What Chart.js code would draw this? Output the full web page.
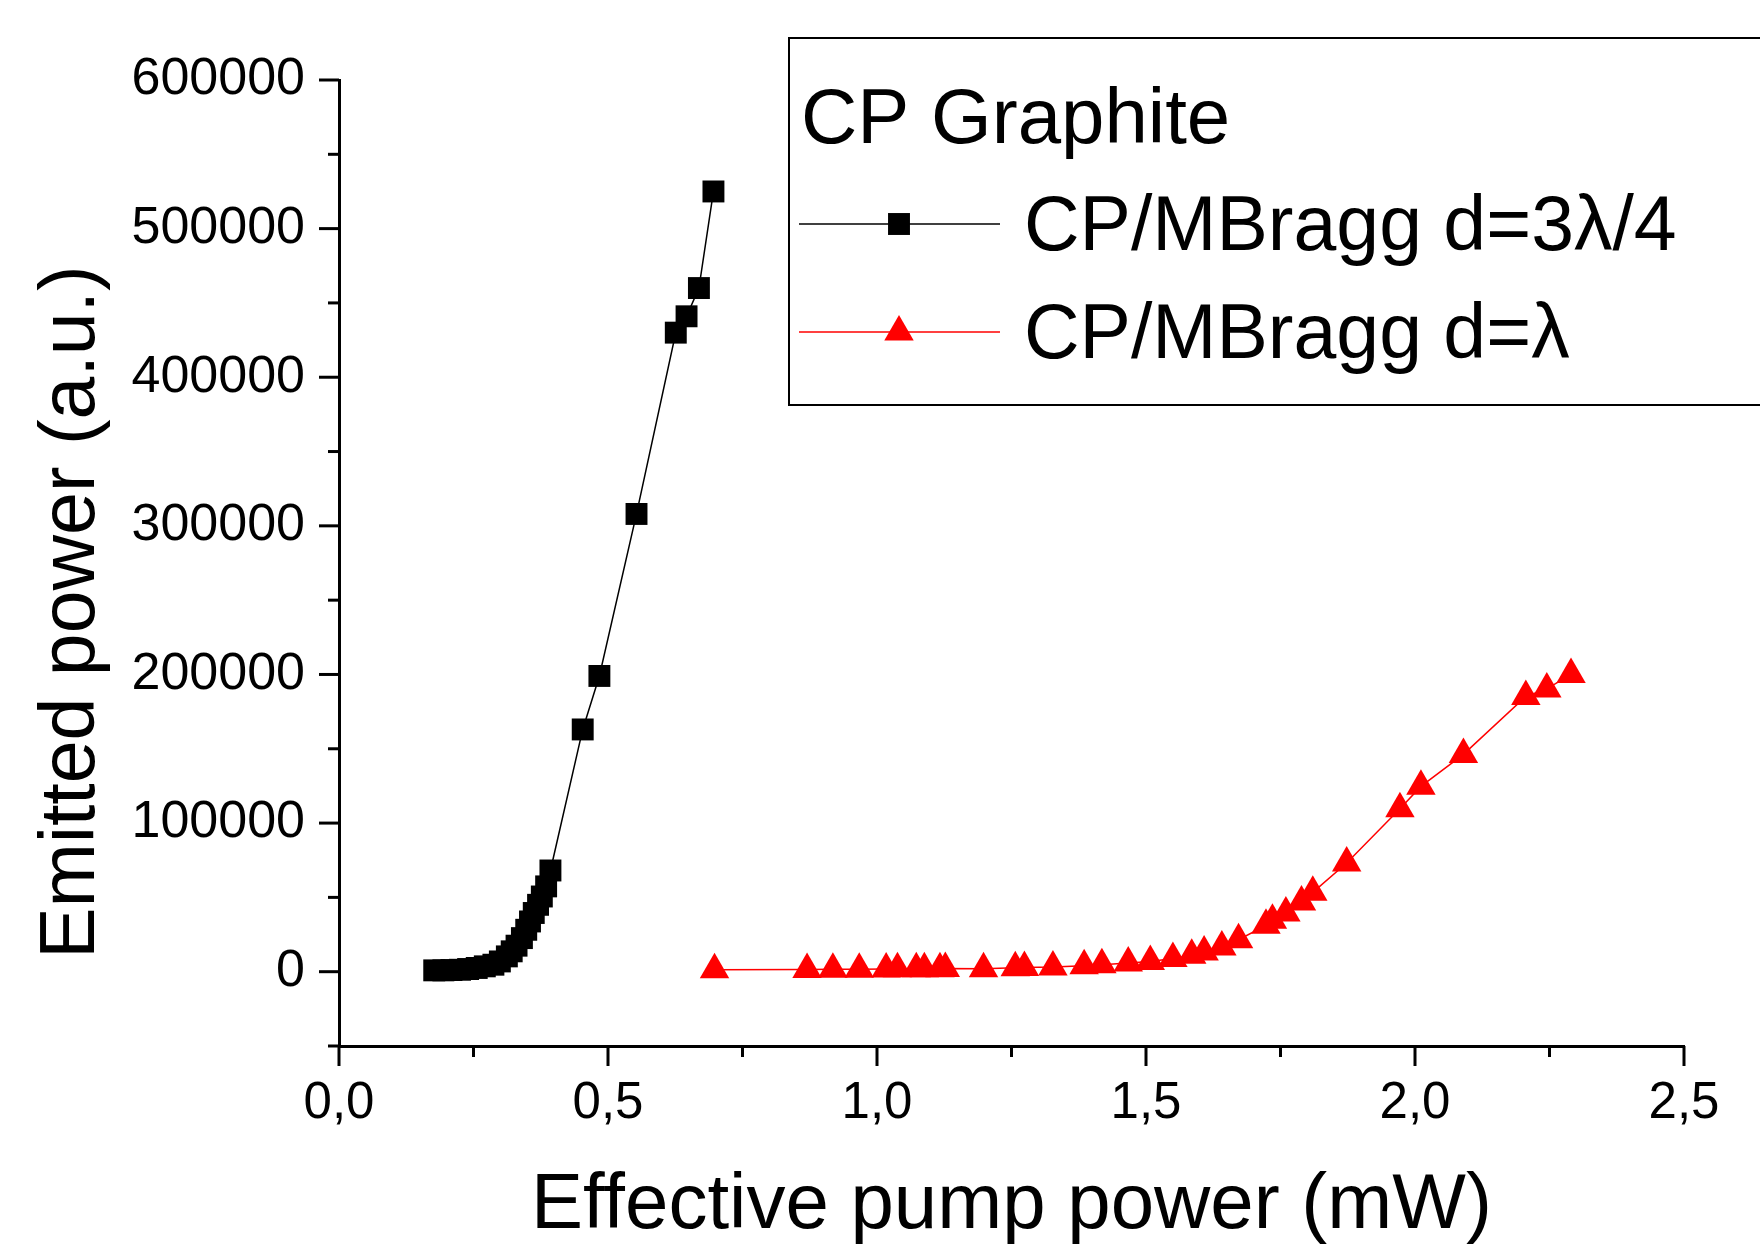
<!DOCTYPE html>
<html>
<head>
<meta charset="utf-8">
<script src="https://cdn.jsdelivr.net/npm/chart.js@4.4.0/dist/chart.umd.min.js"></script>
<style>
  html, body { margin: 0; padding: 0; background: #fff; }
  #wrap { width: 1760px; height: 1248px; }
</style>
</head>
<body>
<div id="wrap"><canvas id="chart" width="1760" height="1248"></canvas></div>
<script>
const FONT = "'Liberation Sans', Arial, sans-serif";

// CP/MBragg d=3λ/4 (black squares)
const pumpA = [0.177, 0.194, 0.209, 0.225, 0.240, 0.256, 0.271, 0.287, 0.299, 0.312, 0.321, 0.330,
  0.340, 0.348, 0.355, 0.362, 0.370, 0.377, 0.385, 0.393, 0.453, 0.484, 0.553, 0.626, 0.646, 0.669, 0.696];
const emitA = [900, 900, 1100, 1300, 1800, 2500, 3600, 4700, 6900, 10300, 13700, 17500,
  22600, 28200, 33800, 39500, 45000, 50600, 57400, 68100, 163000, 199000, 308000, 430000, 441000, 460000, 525000];

// CP/MBragg d=λ (red triangles)
const pumpB = [0.698, 0.870, 0.918, 0.967, 1.017, 1.038, 1.073, 1.088, 1.117, 1.127, 1.198, 1.257, 1.274,
  1.327, 1.385, 1.418, 1.467, 1.508, 1.550, 1.585, 1.608, 1.641, 1.672, 1.723, 1.735, 1.760, 1.789,
  1.810, 1.873, 1.972, 2.011, 2.090, 2.206, 2.245, 2.290];
const emitB = [1300, 1500, 1600, 1700, 1800, 1900, 2000, 2000, 2000, 2100, 2000, 2700, 2800,
  3100, 4000, 4700, 5800, 6900, 8800, 11000, 13200, 16600, 21500, 31200, 34600, 39500, 46900,
  53400, 73100, 109600, 124700, 146200, 185200, 190300, 200000];

const seriesLabels = ['CP/MBragg d=3λ/4', 'CP/MBragg d=λ'];
const legendTitle = 'CP Graphite';
const xTitle = 'Effective pump power (mW)';
const yTitle = 'Emitted power (a.u.)';

const toXY = (xs, ys) => xs.map((x, i) => ({ x: x, y: ys[i] }));

// major / minor tick marks (major = labelled tick)
const tickMarks = {
  id: 'tickMarks',
  afterDraw(chart) {
    const ctx = chart.ctx;
    const xs = chart.scales.x, ys = chart.scales.y;
    const area = chart.chartArea;
    ctx.save();
    ctx.strokeStyle = '#000';
    ctx.lineWidth = 3;
    ys.ticks.forEach(t => {
      const py = ys.getPixelForValue(t.value);
      const len = t.value % 100000 === 0 ? 20 : 11;
      ctx.beginPath();
      ctx.moveTo(area.left, py);
      ctx.lineTo(area.left - len, py);
      ctx.stroke();
    });
    xs.ticks.forEach(t => {
      const px = xs.getPixelForValue(t.value);
      const major = Math.abs(t.value * 2 - Math.round(t.value * 2)) < 1e-9;
      ctx.beginPath();
      ctx.moveTo(px, area.bottom);
      ctx.lineTo(px, area.bottom + (major ? 20 : 11));
      ctx.stroke();
    });
    ctx.restore();
  }
};

const axisTitles = {
  id: 'axisTitles',
  afterDraw(chart) {
    const ctx = chart.ctx;
    const area = chart.chartArea;
    ctx.save();
    ctx.fillStyle = '#000';
    ctx.font = '78px ' + FONT;
    ctx.textAlign = 'center';
    ctx.textBaseline = 'alphabetic';
    ctx.fillText(xTitle, (area.left + area.right) / 2, 1228);
    ctx.translate(94, 612);
    ctx.rotate(-Math.PI / 2);
    ctx.font = '77px ' + FONT;
    ctx.fillText(yTitle, 0, 0);
    ctx.restore();
  }
};

const legendBox = {
  id: 'legendBox',
  afterDraw(chart) {
    const ctx = chart.ctx;
    ctx.save();
    ctx.lineWidth = 2;
    ctx.strokeStyle = '#000';
    ctx.fillStyle = '#fff';
    ctx.fillRect(789, 38, 1000, 367);
    ctx.strokeRect(789, 38, 1000, 367);
    ctx.fillStyle = '#000';
    ctx.font = '78px ' + FONT;
    ctx.textAlign = 'left';
    ctx.textBaseline = 'alphabetic';
    ctx.fillText(legendTitle, 801, 143);
    const rows = [224, 332];
    const bases = [250, 358];
    chart.data.datasets.forEach((ds, i) => {
      const y = rows[i];
      ctx.strokeStyle = ds.borderColor;
      ctx.lineWidth = 1.5;
      ctx.beginPath();
      ctx.moveTo(799, y);
      ctx.lineTo(1000, y);
      ctx.stroke();
      ctx.fillStyle = ds.pointBackgroundColor;
      Chart.helpers.drawPoint(ctx, { pointStyle: ds.pointStyle, radius: ds.pointRadius, rotation: 0, borderWidth: 0 }, 899, y);
      ctx.fillStyle = '#000';
      ctx.font = '77px ' + FONT;
      ctx.fillText(ds.label, 1024, bases[i]);
    });
    ctx.restore();
  }
};

new Chart(document.getElementById('chart').getContext('2d'), {
  type: 'scatter',
  data: {
    datasets: [
      { label: seriesLabels[0], data: toXY(pumpA, emitA), showLine: true,
        borderColor: '#000', borderWidth: 1.5, pointStyle: 'rect', pointRadius: 15.5,
        pointBackgroundColor: '#000', pointBorderWidth: 0 },
      { label: seriesLabels[1], data: toXY(pumpB, emitB), showLine: true,
        borderColor: '#ff0000', borderWidth: 1.5, pointStyle: 'triangle', pointRadius: 17,
        pointBackgroundColor: '#ff0000', pointBorderWidth: 0 }
    ]
  },
  options: {
    responsive: false,
    animation: false,
    layout: { padding: { top: 80, right: 76, left: 0, bottom: 0 } },
    plugins: { legend: { display: false }, tooltip: { enabled: false } },
    scales: {
      x: {
        type: 'linear', min: 0, max: 2.5,
        afterFit: s => { s.height = 202; },
        grid: { display: false, drawTicks: false },
        border: { display: true, color: '#000', width: 3 },
        ticks: {
          stepSize: 0.25, autoSkip: false, maxRotation: 0, padding: 27,
          color: '#000', font: { family: FONT, size: 51 },
          callback: v => Math.abs(v * 2 - Math.round(v * 2)) < 1e-9 ? v.toFixed(1).replace('.', ',') : ''
        }
      },
      y: {
        type: 'linear', min: -50000, max: 600000,
        afterFit: s => { s.width = 339; },
        grid: { display: false, drawTicks: false },
        border: { display: true, color: '#000', width: 3 },
        ticks: {
          stepSize: 50000, autoSkip: false, padding: 34,
          color: '#000', font: { family: FONT, size: 52 },
          callback: v => v % 100000 === 0 ? String(v) : ''
        }
      }
    }
  },
  plugins: [tickMarks, axisTitles, legendBox]
});
</script>
</body>
</html>
